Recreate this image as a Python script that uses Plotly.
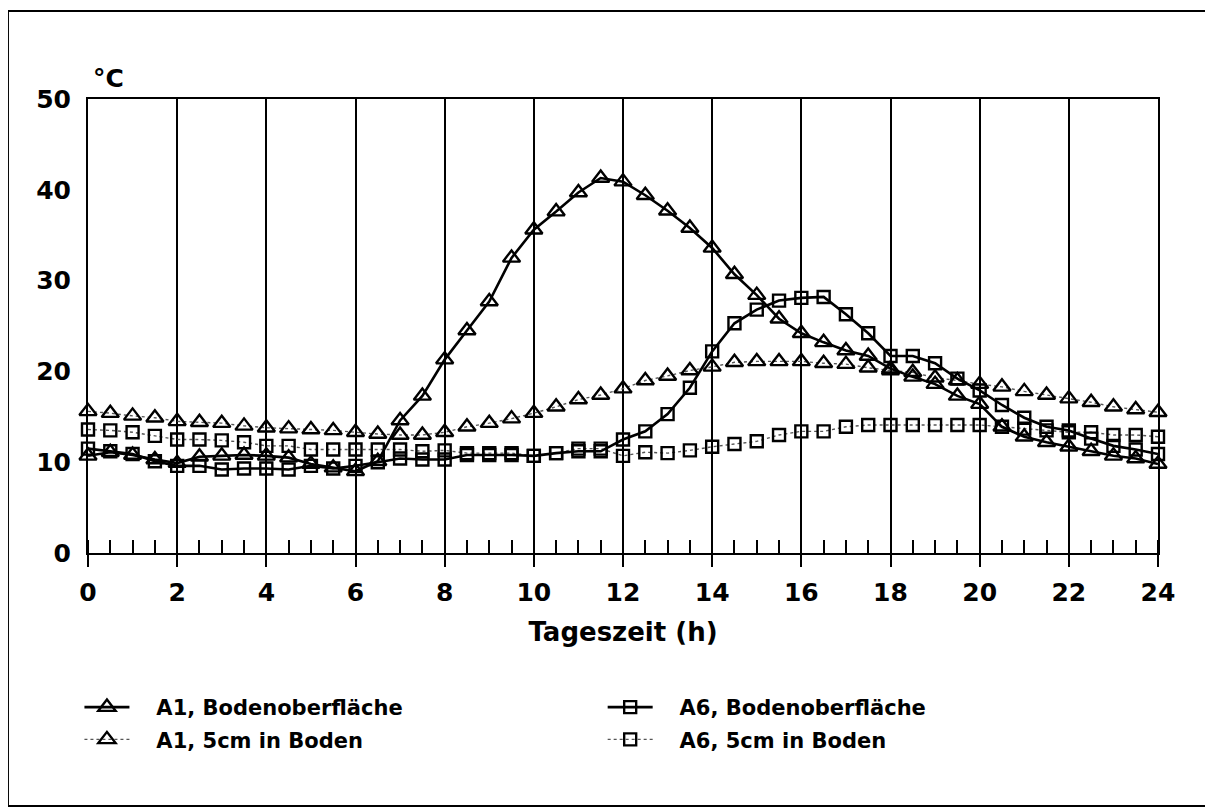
import plotly.graph_objects as go

hours = [0, 0.5, 1, 1.5, 2, 2.5, 3, 3.5, 4, 4.5, 5, 5.5, 6, 6.5, 7, 7.5, 8, 8.5,
         9, 9.5, 10, 10.5, 11, 11.5, 12, 12.5, 13, 13.5, 14, 14.5, 15, 15.5, 16,
         16.5, 17, 17.5, 18, 18.5, 19, 19.5, 20, 20.5, 21, 21.5, 22, 22.5, 23,
         23.5, 24]

a1_surface = [10.7, 11.1, 10.8, 10.3, 9.9, 10.6, 10.7, 10.8, 10.7, 10.5, 9.8, 9.4,
              9.0, 10.1, 14.6, 17.3, 21.3, 24.5, 27.7, 32.5, 35.6, 37.6, 39.7, 41.3,
              40.9, 39.4, 37.7, 35.8, 33.6, 30.7, 28.4, 25.8, 24.2, 23.2, 22.3, 21.7,
              20.3, 19.4, 18.6, 17.3, 16.4, 13.9, 12.8, 12.2, 11.7, 11.2, 10.7, 10.4,
              9.8]

a1_5cm = [15.6, 15.4, 15.1, 14.9, 14.5, 14.4, 14.3, 14.0, 13.8, 13.7, 13.6, 13.5,
          13.3, 13.1, 13.0, 13.0, 13.3, 13.9, 14.3, 14.8, 15.4, 16.1, 16.9, 17.4,
          18.1, 19.0, 19.5, 20.1, 20.5, 21.0, 21.1, 21.1, 21.1, 20.9, 20.8, 20.4,
          20.1, 19.9, 19.3, 19.0, 18.6, 18.3, 17.8, 17.4, 17.0, 16.6, 16.1, 15.8,
          15.5]

a6_surface = [11.5, 11.2, 10.9, 10.1, 9.6, 9.6, 9.2, 9.3, 9.3, 9.2, 9.6, 9.3,
              9.6, 10.0, 10.4, 10.3, 10.3, 10.8, 10.8, 10.8, 10.7, 11.0, 11.2, 11.2,
              12.5, 13.4, 15.3, 18.2, 22.2, 25.3, 26.8, 27.8, 28.1, 28.2, 26.3, 24.2,
              21.7, 21.7, 20.9, 19.2, 17.9, 16.3, 14.9, 13.9, 13.5, 12.6, 11.8, 11.4,
              10.9]

a6_5cm = [13.6, 13.5, 13.3, 12.9, 12.5, 12.5, 12.4, 12.2, 11.8, 11.8, 11.4, 11.4,
          11.4, 11.4, 11.4, 11.2, 11.3, 11.0, 11.0, 11.0, 10.7, 11.0, 11.5, 11.5,
          10.7, 11.1, 11.0, 11.3, 11.7, 12.0, 12.3, 13.0, 13.4, 13.4, 13.9, 14.1,
          14.1, 14.1, 14.1, 14.1, 14.1, 13.9, 13.7, 13.5, 13.3, 13.3, 13.0, 13.0,
          12.8]

names = ["A1, Bodenoberfläche", "A1, 5cm in Boden",
         "A6, Bodenoberfläche", "A6, 5cm in Boden"]
x_tickvals = [0, 2, 4, 6, 8, 10, 12, 14, 16, 18, 20, 22, 24]
y_tickvals = [0, 10, 20, 30, 40, 50]

FONT = "DejaVu Sans"
PAD = "\u00a0\u00a0\u00a0"

fig = go.Figure()

solid = dict(color="black", width=2.6)
dotted = dict(color="#555555", width=1.4, dash="dot")
tri = dict(symbol="triangle-up-open", size=15, color="black", line=dict(width=2.4, color="black"))
sq = dict(symbol="square-open", size=12, color="black", line=dict(width=2.4, color="black"))

fig.add_trace(go.Scatter(x=hours, y=a1_5cm, name=PAD + names[1], mode="lines+markers",
                         line=dotted, marker=tri, cliponaxis=False,
                         legend="legend", legendgroup="g2", legendrank=2))
fig.add_trace(go.Scatter(x=hours, y=a6_5cm, name=PAD + names[3], mode="lines+markers",
                         line=dotted, marker=sq, cliponaxis=False,
                         legend="legend2", legendgroup="g4", legendrank=2))
fig.add_trace(go.Scatter(x=hours, y=a1_surface, name=PAD + names[0], mode="lines+markers",
                         line=solid, marker=tri, cliponaxis=False,
                         legend="legend", legendgroup="g1", legendrank=1))
fig.add_trace(go.Scatter(x=hours, y=a6_surface, name=PAD + names[2], mode="lines+markers",
                         line=solid, marker=sq, cliponaxis=False,
                         legend="legend2", legendgroup="g3", legendrank=1))

legend_common = dict(font=dict(family=FONT, size=21, color="black", weight="bold"),
                     bgcolor="rgba(0,0,0,0)", borderwidth=0, tracegroupgap=2,
                     itemwidth=45, xanchor="left", yanchor="top",
                     traceorder="grouped")

fig.update_layout(
    width=1205, height=804,
    margin=dict(l=80, r=55, t=91, b=259),
    paper_bgcolor="white", plot_bgcolor="white",
    font=dict(family=FONT, color="black", weight="bold"),
    showlegend=True,
    legend=dict(x=-0.008, y=-0.295, **legend_common),
    legend2=dict(x=0.481, y=-0.295, **legend_common),
    xaxis=dict(
        range=[0, 24], tickvals=x_tickvals, ticktext=[str(v) for v in x_tickvals],
        showgrid=True, gridcolor="black", gridwidth=2,
        showline=True, linecolor="black", linewidth=2, mirror=True,
        ticks="outside", ticklen=12, tickwidth=2, tickcolor="black",
        minor=dict(dtick=0.5, tick0=0, ticks="inside", ticklen=13, tickwidth=1.6,
                   tickcolor="black", showgrid=False),
        zeroline=False,
        tickfont=dict(family=FONT, size=25, color="black", weight="bold"),
        ticklabelstandoff=4,
        title=dict(text="Tageszeit (h)", standoff=17,
                   font=dict(family=FONT, size=26, color="black", weight="bold")),
    ),
    yaxis=dict(
        range=[0, 50], tickvals=y_tickvals, ticktext=[str(v) for v in y_tickvals],
        showgrid=False, showline=True, linecolor="black", linewidth=2, mirror=True,
        ticks="", zeroline=False,
        tickfont=dict(family=FONT, size=25, color="black", weight="bold"),
        ticklabelstandoff=10,
    ),
)

fig.add_annotation(text="°C", xref="paper", yref="paper", x=0.003, y=1.046,
                   xanchor="left", yanchor="middle", showarrow=False,
                   font=dict(family=FONT, size=25, color="black", weight="bold"))

fig.add_shape(type="rect", xref="paper", yref="paper",
              x0=-0.0748, x1=1.0449, y0=-0.557, y1=1.1938,
              line=dict(color="black", width=2), fillcolor="rgba(0,0,0,0)")

fig.write_html("out.html")
